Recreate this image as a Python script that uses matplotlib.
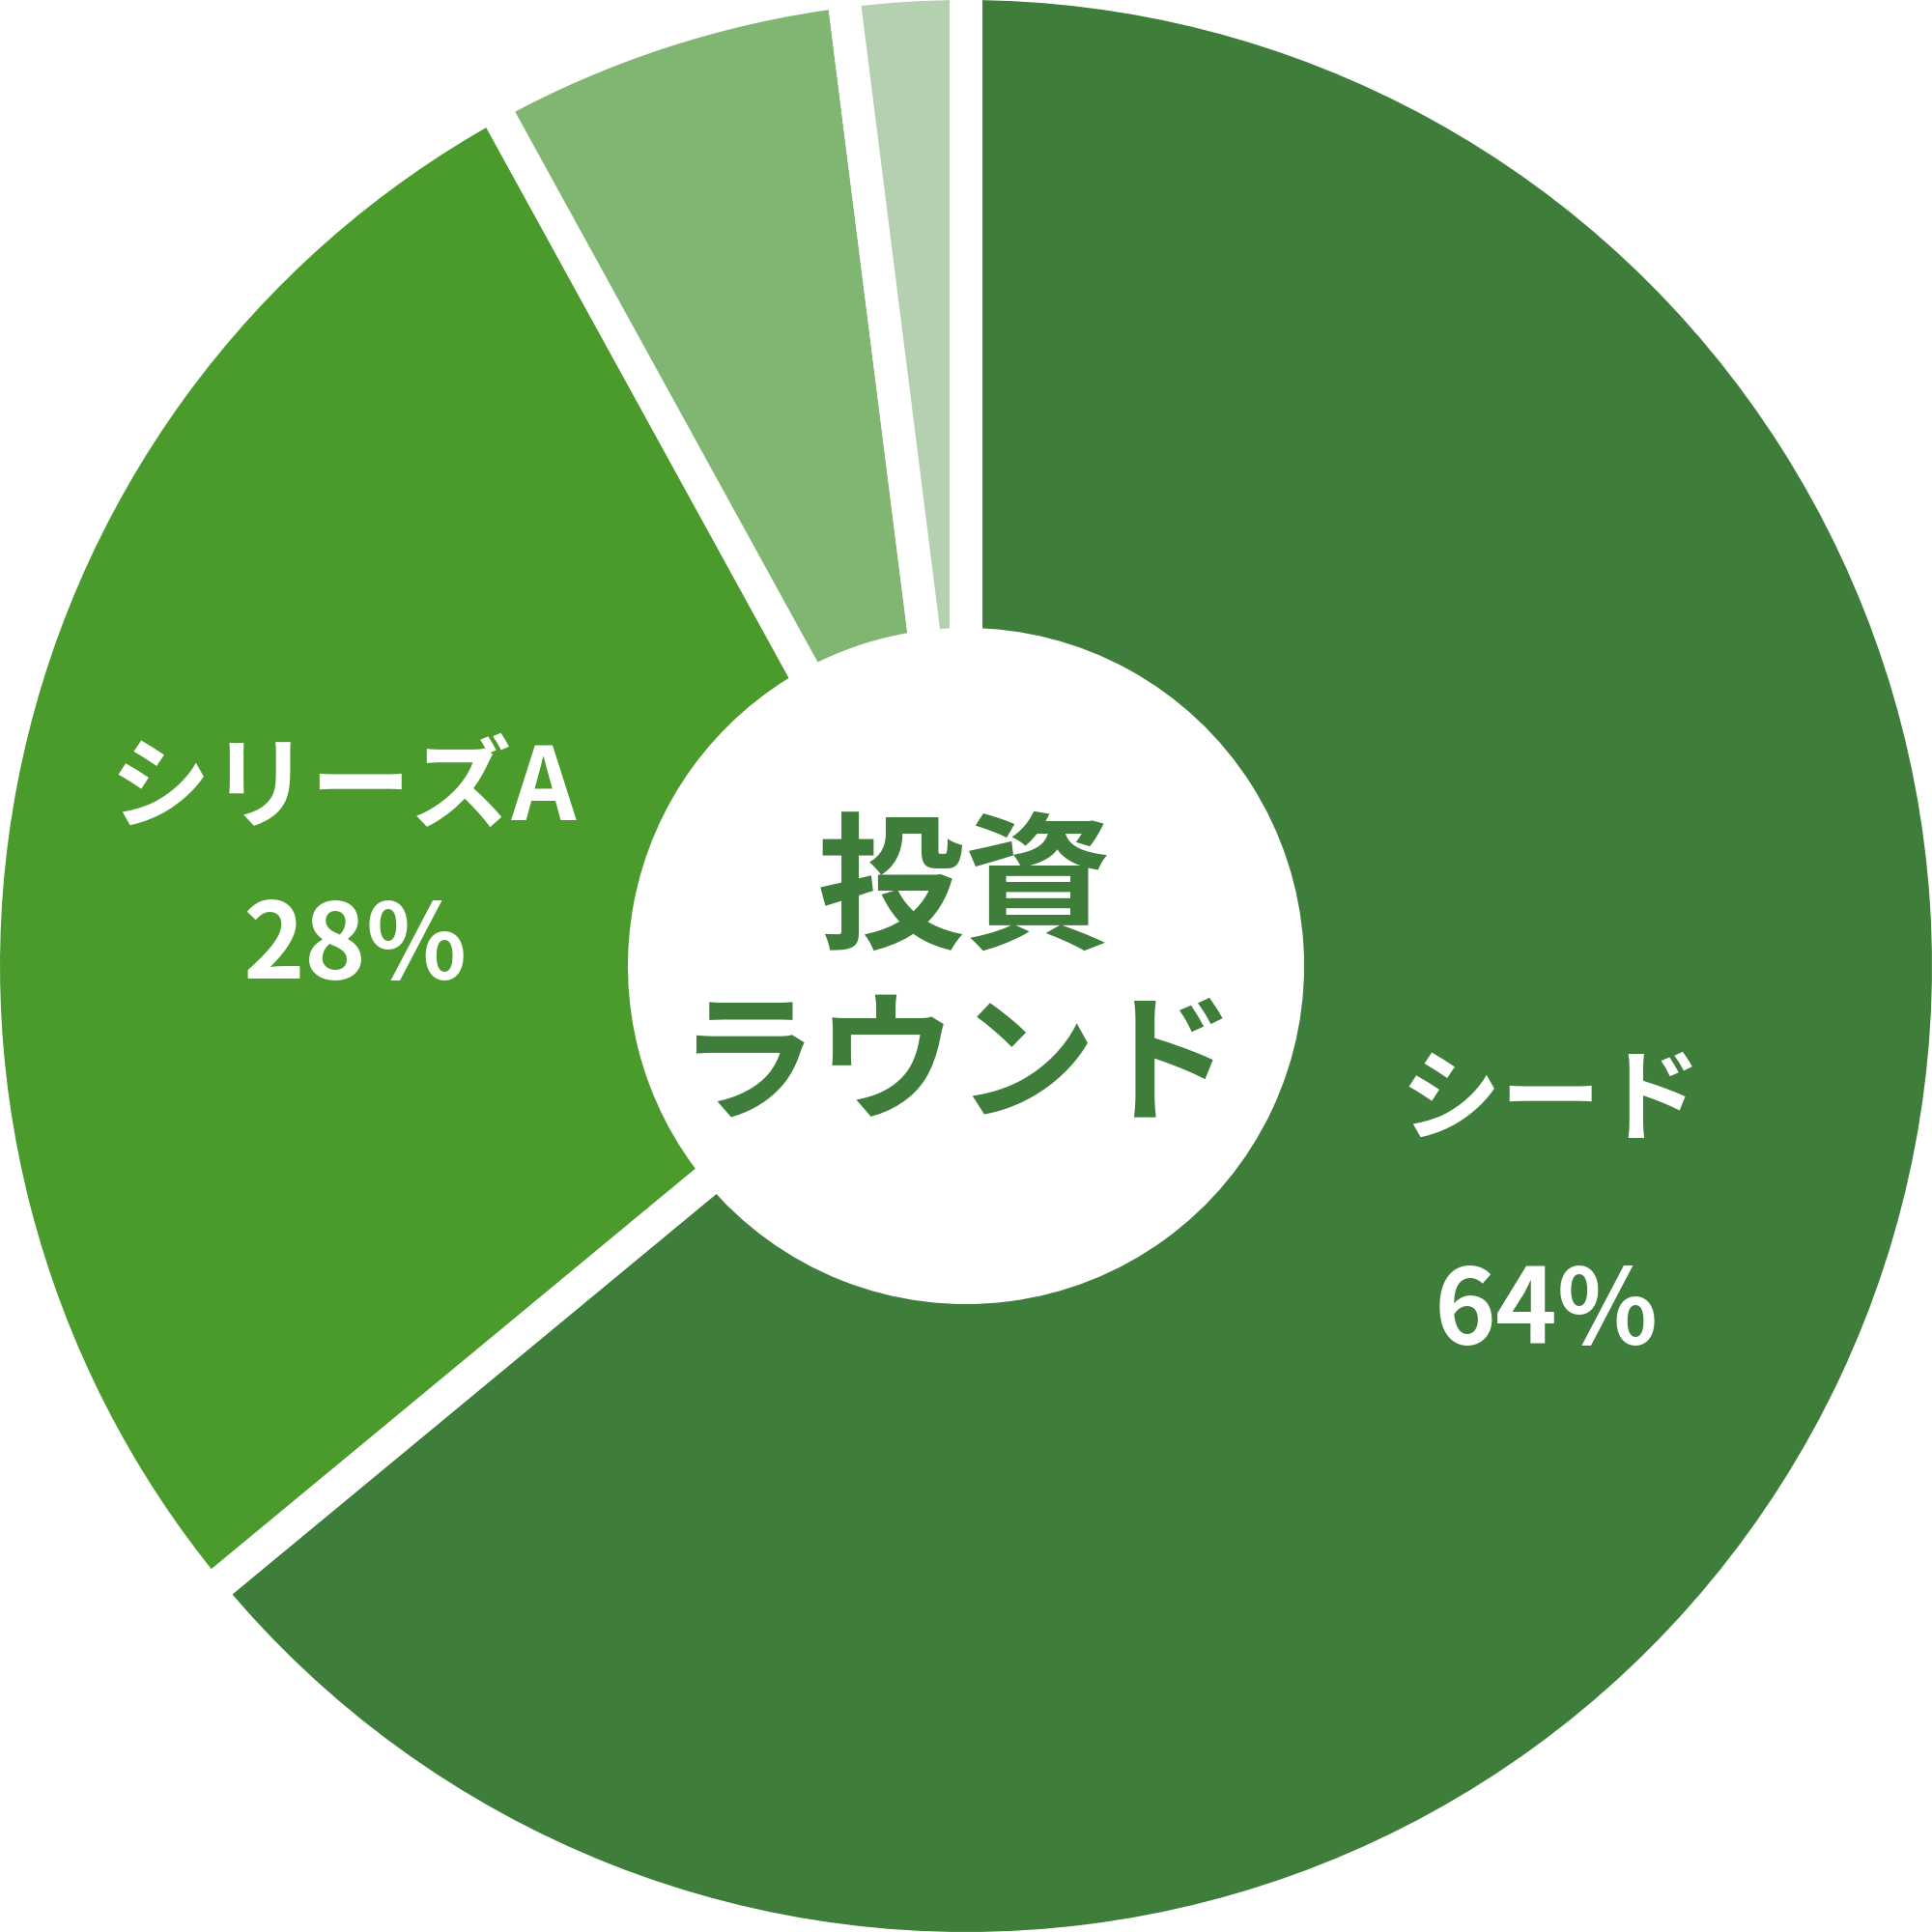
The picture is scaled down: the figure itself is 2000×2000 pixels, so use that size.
import matplotlib
matplotlib.use("Agg")
import matplotlib.pyplot as plt

plt.rcParams['font.family'] = ['Noto Sans CJK JP', 'DejaVu Sans']

# Data
rounds = ['シード', 'シリーズA', 'その他1', 'その他2']
shares = [64, 28, 6, 2]
colors = ['#3e7d3a', '#4a9a2c', '#80b572', '#b4d0b0']
center_title = '投資\nラウンド'

fig = plt.figure(figsize=(20, 20), dpi=100)
ax = fig.add_axes([0, 0, 1, 1])

gap_lw = 24.5
half_gap = 0.017
ax.pie(shares, colors=colors, startangle=90, counterclock=False,
       radius=1 + half_gap,
       wedgeprops=dict(width=1 + half_gap - (0.35 - half_gap),
                       edgecolor='white', linewidth=gap_lw))

ax.set_xlim(-1, 1)
ax.set_ylim(-1, 1)
ax.set_aspect('equal')
ax.axis('off')

# Labels
ax.text(-0.645, 0.182, rounds[1], color='white', fontsize=75,
        fontweight='bold', ha='center', va='center')
ax.text(-0.633, 0.018, f'{shares[1]}%', color='white', fontsize=78,
        fontweight='bold', ha='center', va='center')
ax.text(0.606, -0.141, rounds[0], color='white', fontsize=75,
        fontweight='bold', ha='center', va='center')
ax.text(0.601, -0.360, f'{shares[0]}%', color='white', fontsize=78,
        fontweight='bold', ha='center', va='center')

# Centre title
lines = center_title.split('\n')
ax.text(-0.002, 0.075, lines[0], color='#3e7d3a', fontsize=110,
        fontweight='bold', ha='center', va='center')
ax.text(-0.010, -0.106, lines[1], color='#3e7d3a', fontsize=104,
        fontweight='bold', ha='center', va='center')

fig.savefig('out.png', dpi=100, facecolor='white')
